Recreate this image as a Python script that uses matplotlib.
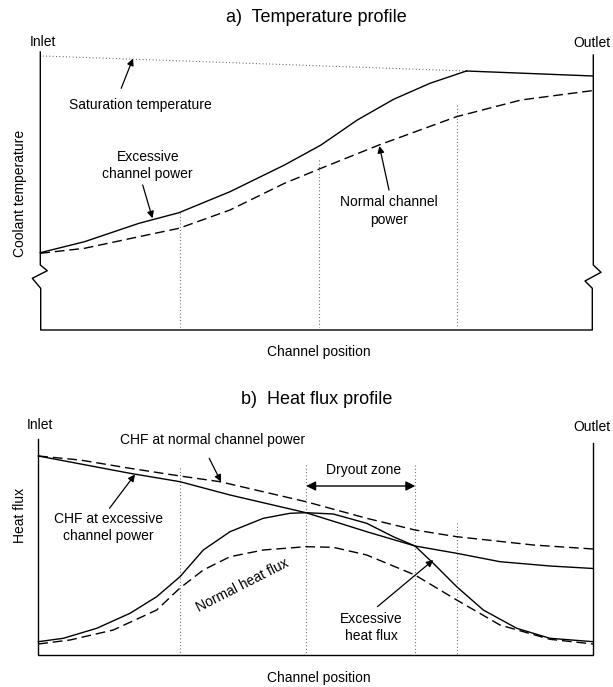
import matplotlib.pyplot as plt

plt.rcParams['font.family'] = ['Liberation Sans', 'DejaVu Sans']

# ---- a) temperature profile (figure pixel coordinates, y grows downward) ----
exc_temp_x = [40.3, 84.5, 139.0, 179.0, 230.0, 284.5, 321.0, 357.3, 393.6, 430.0, 466.4]
exc_temp_y = [252.7, 241.7, 223.3, 212.7, 191.7, 165.0, 145.0, 120.0, 99.3, 83.3, 71.0]

norm_temp_x = [40.3, 84.5, 139.0, 179.0, 230.0, 284.5, 321.0, 379.0, 456.5, 521.0, 593.3]
norm_temp_y = [253.3, 248.3, 236.7, 228.3, 210.0, 183.3, 168.3, 145.0, 116.7, 100.0, 90.5]

sat_x = [42.7, 466.4]
sat_y = [56.0, 71.0]
vapour_x = [466.4, 593.3]
vapour_y = [71.0, 76.0]

temp_grid_x = [179.9, 318.7, 456.8]
temp_grid_top = [213.0, 160.0, 105.0]

# ---- b) heat flux profile ----
chf_exc_x = [38.3, 130.0, 180.0, 230.0, 306.0, 366.7, 415.0, 456.7, 500.0, 550.0, 593.3]
chf_exc_y = [456.0, 473.3, 481.7, 495.0, 512.7, 531.7, 546.0, 553.3, 561.7, 566.0, 568.5]

chf_norm_x = [38.3, 80.0, 130.0, 180.0, 220.0, 306.0, 366.7, 415.0, 456.7, 533.3, 593.3]
chf_norm_y = [456.0, 460.0, 468.3, 476.0, 481.7, 501.7, 518.3, 530.0, 536.7, 545.0, 549.0]

flux_exc_x = [38.3, 63.3, 96.7, 130.0, 156.7, 180.0, 203.3, 230.0, 263.3, 290.0, 306.0, 333.3,
              366.7, 393.3, 415.0, 433.3, 456.7, 483.3, 516.7, 550.0, 593.3]
flux_exc_y = [641.7, 638.3, 628.3, 613.3, 596.7, 576.7, 550.0, 531.7, 518.3, 513.3, 512.7, 514.0,
              523.3, 536.7, 546.0, 563.3, 586.7, 610.0, 628.3, 638.3, 641.7]

flux_norm_x = [38.3, 70.0, 113.3, 156.7, 180.0, 203.3, 230.0, 263.3, 306.0, 333.3, 366.7,
               415.0, 456.7, 500.0, 550.0, 593.3]
flux_norm_y = [644.0, 640.0, 630.0, 610.0, 588.0, 570.0, 556.7, 550.0, 546.7, 547.3, 555.0,
               575.0, 600.0, 625.0, 639.3, 644.0]

flux_grid_x = [180.0, 306.2, 415.3, 456.8]
flux_grid_top = [468.3, 465.0, 465.0, 523.3]

fig = plt.figure(figsize=(6.13, 6.87), dpi=100)
ax = fig.add_axes([0, 0, 1, 1])
ax.set_xlim(0, 613)
ax.set_ylim(687, 0)
ax.axis('off')

k = dict(color='black', lw=1.0)
dash = dict(color='black', lw=1.0, dashes=(7, 3.5))
dot = dict(color='#555555', lw=0.8, dashes=(0.8, 2.2))
fs = 10
tfs = 13

# frame of panel a, with break marks on both sides
ax.plot([40.3, 40.3, 47.3, 32.3, 40.7, 40.7, 592.3, 592.3, 585.0, 601.0, 593.3, 593.3],
        [52.0, 265.0, 270.7, 278.3, 288.3, 330.0, 330.0, 288.3, 281.0, 272.3, 265.0, 55.0], **k)

for gx, gt in zip(temp_grid_x, temp_grid_top):
    ax.plot([gx, gx], [gt, 327.0], **dot)

ax.plot(sat_x, sat_y, **dot)
ax.plot(vapour_x, vapour_y, **k)
ax.plot(exc_temp_x, exc_temp_y, **k)
ax.plot(norm_temp_x, norm_temp_y, **dash)

ax.text(316.5, 18, 'a)  Temperature profile', ha='center', va='center', fontsize=tfs)
ax.text(42.5, 42, 'Inlet', ha='center', va='center', fontsize=fs)
ax.text(592, 43, 'Outlet', ha='center', va='center', fontsize=fs)
ax.text(19.6, 193, 'Coolant temperature', ha='center', va='center', rotation=90, fontsize=fs)
ax.text(318.7, 352, 'Channel position', ha='center', va='center', fontsize=fs)

arrow = dict(arrowstyle='-|>', color='black', lw=0.9, mutation_scale=10, shrinkA=0, shrinkB=0)
ax.text(140, 105, 'Saturation temperature', ha='center', va='center', fontsize=fs)
ax.annotate('', xy=(133.0, 58.5), xytext=(121.2, 88.3), arrowprops=arrow)
ax.text(147.8, 165.5, 'Excessive\nchannel power', ha='center', va='center', fontsize=fs,
        linespacing=1.35)
ax.annotate('', xy=(152.5, 218.3), xytext=(142.7, 185.0), arrowprops=arrow)
ax.text(389, 211, 'Normal channel\npower', ha='center', va='center', fontsize=fs,
        linespacing=1.35)
ax.annotate('', xy=(379.4, 146.0), xytext=(389.0, 190.0), arrowprops=arrow)

# frame of panel b
ax.plot([38.3, 38.3, 593.3, 593.3], [439.3, 655.0, 655.0, 442.7], **k)

for gx, gt in zip(flux_grid_x, flux_grid_top):
    ax.plot([gx, gx], [gt, 655.0], **dot)

ax.plot(chf_exc_x, chf_exc_y, **k)
ax.plot(chf_norm_x, chf_norm_y, **dash)
ax.plot(flux_exc_x, flux_exc_y, **k)
ax.plot(flux_norm_x, flux_norm_y, **dash)

ax.text(316.8, 399, 'b)  Heat flux profile', ha='center', va='center', fontsize=tfs)
ax.text(40, 425, 'Inlet', ha='center', va='center', fontsize=fs)
ax.text(592, 427, 'Outlet', ha='center', va='center', fontsize=fs)
ax.text(19.6, 515, 'Heat flux', ha='center', va='center', rotation=90, fontsize=fs)
ax.text(318.7, 678, 'Channel position', ha='center', va='center', fontsize=fs)

ax.text(363.7, 470, 'Dryout zone', ha='center', va='center', fontsize=fs)
ax.annotate('', xy=(306.2, 486), xytext=(415.3, 486),
            arrowprops=dict(arrowstyle='<|-|>', color='black', lw=1.0, mutation_scale=14,
                            shrinkA=0, shrinkB=0))

ax.text(213, 440, 'CHF at normal channel power', ha='center', va='center', fontsize=fs)
ax.annotate('', xy=(221.0, 481.7), xytext=(209.2, 458.3), arrowprops=arrow)
ax.text(108.7, 527.5, 'CHF at excessive\nchannel power', ha='center', va='center', fontsize=fs,
        linespacing=1.35)
ax.annotate('', xy=(135.0, 474.5), xytext=(109.5, 508.3), arrowprops=arrow)
ax.text(242.5, 585, 'Normal heat flux', ha='center', va='center', fontsize=fs, rotation=27)
ax.text(371.5, 627.5, 'Excessive\nheat flux', ha='center', va='center', fontsize=fs,
        linespacing=1.35)
ax.annotate('', xy=(433.3, 560.0), xytext=(377.4, 606.7), arrowprops=arrow)

fig.savefig('out.png', dpi=100)
